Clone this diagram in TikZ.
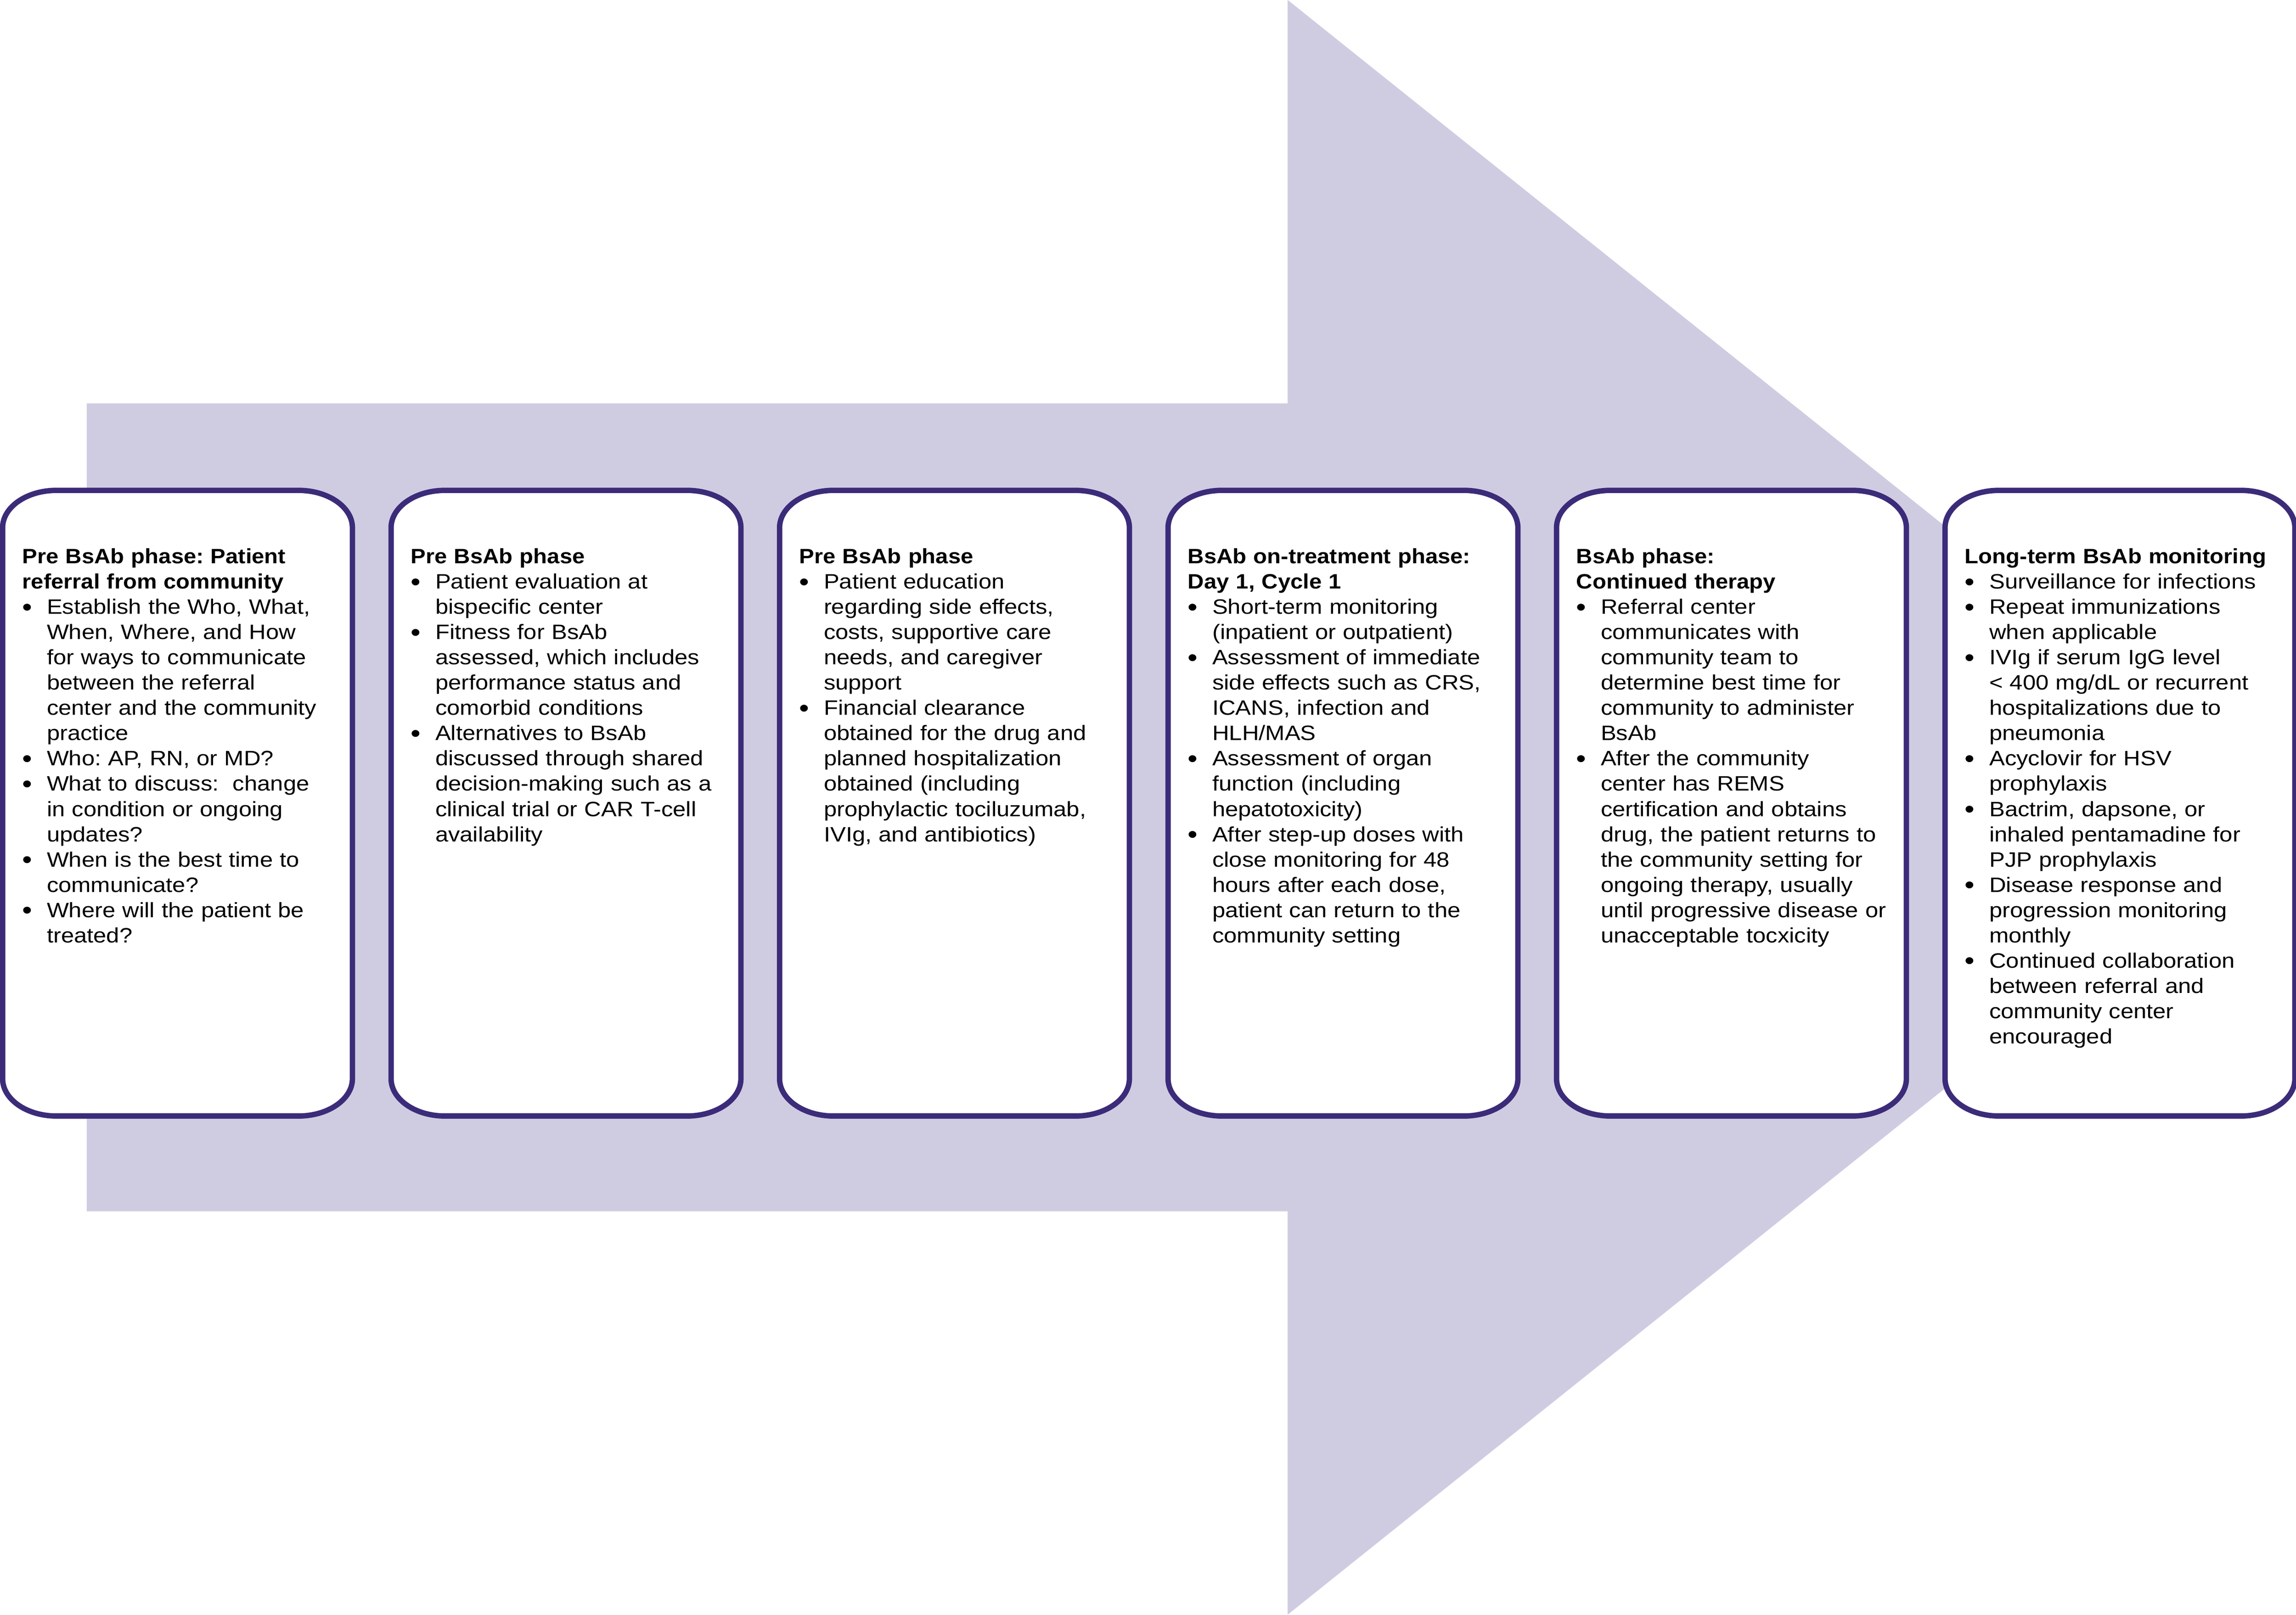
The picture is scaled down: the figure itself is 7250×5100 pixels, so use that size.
\documentclass[tikz,border=0pt]{standalone}
\usepackage{fontspec}
\setmainfont{Liberation Sans}[FakeStretch=1.12]
\newfontfamily\headfont{Liberation Sans}[FakeStretch=1.08]
\usepackage{enumitem}
\usetikzlibrary{positioning}
\frenchspacing

\definecolor{phaseline}{HTML}{3C2B79}
\definecolor{arrowfill}{HTML}{CFCCE2}

\newcommand{\phasefont}{\fontsize{18.7pt}{22.7pt}\selectfont}
\newcommand{\phasehead}[1]{{\headfont\bfseries #1}\par}
\newcommand{\phasedot}{\raisebox{-0.08em}{\scalebox{1.22}{\textbullet}}}

\setlist[itemize]{label=\phasedot, leftmargin=0.77cm, labelwidth=0.77cm, labelsep=0pt, align=left, nosep}

\tikzset{
    phase/.style={draw=none, minimum width=11.04cm, minimum height=19.75cm, inner sep=0pt, outer sep=0pt}, % placeholder for each phase box
    frame/.style={draw=phaseline, line width=0.17cm, fill=white},
    phasetext/.style={anchor=north west, inner sep=0pt, text width=10.6cm, align=left, font=\phasefont},
}

\begin{document}
\begin{tikzpicture}[x=0.01cm, y=0.01cm, node distance=1.22cm]
    \useasboundingbox (0,0) rectangle (7250,5100);

    % big arrow behind the boxes
    \fill[arrowfill] (274,1274) -- (274,3826) -- (4066,3826) -- (4066,5100)
        -- (7250,2550) -- (4066,0) -- (4066,1274) -- cycle;

    \node[phase] (p1) at (560.5,2563) {};
    \node[phase, right=of p1] (p2) {};
    \node[phase, right=of p2] (p3) {};
    \node[phase, right=of p3] (p4) {};
    \node[phase, right=of p4] (p5) {};
    \node[phase, right=of p5] (p6) {};

    \foreach \i in {1,...,6}
        \draw[frame] ([xshift=1.7cm]p\i.north west) -- ([xshift=-1.7cm]p\i.north east)
            arc[start angle=90, end angle=0, x radius=1.7cm, y radius=1.18cm]
            -- ([yshift=1.18cm]p\i.south east)
            arc[start angle=0, end angle=-90, x radius=1.7cm, y radius=1.18cm]
            -- ([xshift=1.7cm]p\i.south west)
            arc[start angle=270, end angle=180, x radius=1.7cm, y radius=1.18cm]
            -- ([yshift=-1.18cm]p\i.north west)
            arc[start angle=180, end angle=90, x radius=1.7cm, y radius=1.18cm]
            -- cycle;

    \node[phasetext] (t1) at ([shift={(0.62cm,-1.825cm)}]p1.north west) {%
        \phasehead{Pre BsAb phase: Patient\newline referral from community}
        \begin{itemize}
            \item Establish the Who, What,\newline When, Where, and How\newline for ways to communicate\newline between the referral\newline center and the community\newline practice
            \item Who: AP, RN, or MD?
            \item What to discuss:\ \ change\newline in condition or ongoing\newline updates?
            \item When is the best time to\newline communicate?
            \item Where will the patient be\newline treated?
        \end{itemize}};

    \node[phasetext] (t2) at ([shift={(0.62cm,-1.825cm)}]p2.north west) {%
        \phasehead{Pre BsAb phase}
        \begin{itemize}
            \item Patient evaluation at\newline bispecific center
            \item Fitness for BsAb\newline assessed, which includes\newline performance status and\newline comorbid conditions
            \item Alternatives to BsAb\newline discussed through shared\newline decision-making such as a\newline clinical trial or CAR T-cell\newline availability
        \end{itemize}};

    \node[phasetext] (t3) at ([shift={(0.62cm,-1.825cm)}]p3.north west) {%
        \phasehead{Pre BsAb phase}
        \begin{itemize}
            \item Patient education\newline regarding side effects,\newline costs, supportive care\newline needs, and caregiver\newline support
            \item Financial clearance\newline obtained for the drug and\newline planned hospitalization\newline obtained (including\newline prophylactic tociluzumab,\newline IVIg, and antibiotics)
        \end{itemize}};

    \node[phasetext] (t4) at ([shift={(0.62cm,-1.825cm)}]p4.north west) {%
        \phasehead{BsAb on-treatment phase:\newline Day 1, Cycle 1}
        \begin{itemize}
            \item Short-term monitoring\newline (inpatient or outpatient)
            \item Assessment of immediate\newline side effects such as CRS,\newline ICANS, infection and\newline HLH/MAS
            \item Assessment of organ\newline function (including\newline hepatotoxicity)
            \item After step-up doses with\newline close monitoring for 48\newline hours after each dose,\newline patient can return to the\newline community setting
        \end{itemize}};

    \node[phasetext] (t5) at ([shift={(0.62cm,-1.825cm)}]p5.north west) {%
        \phasehead{BsAb phase:\newline Continued therapy}
        \begin{itemize}
            \item Referral center\newline communicates with\newline community team to\newline determine best time for\newline community to administer\newline BsAb
            \item After the community\newline center has REMS\newline certification and obtains\newline drug, the patient returns to\newline the community setting for\newline ongoing therapy, usually\newline until progressive disease or\newline unacceptable tocxicity
        \end{itemize}};

    \node[phasetext] (t6) at ([shift={(0.62cm,-1.825cm)}]p6.north west) {%
        \phasehead{Long-term BsAb monitoring}
        \begin{itemize}
            \item Surveillance for infections
            \item Repeat immunizations\newline when applicable
            \item IVIg if serum IgG level\newline < 400 mg/dL or recurrent\newline hospitalizations due to\newline pneumonia
            \item Acyclovir for HSV\newline prophylaxis
            \item Bactrim, dapsone, or\newline inhaled pentamadine for\newline PJP prophylaxis
            \item Disease response and\newline progression monitoring\newline monthly
            \item Continued collaboration\newline between referral and\newline community center\newline encouraged
        \end{itemize}};
\end{tikzpicture}
\end{document}
